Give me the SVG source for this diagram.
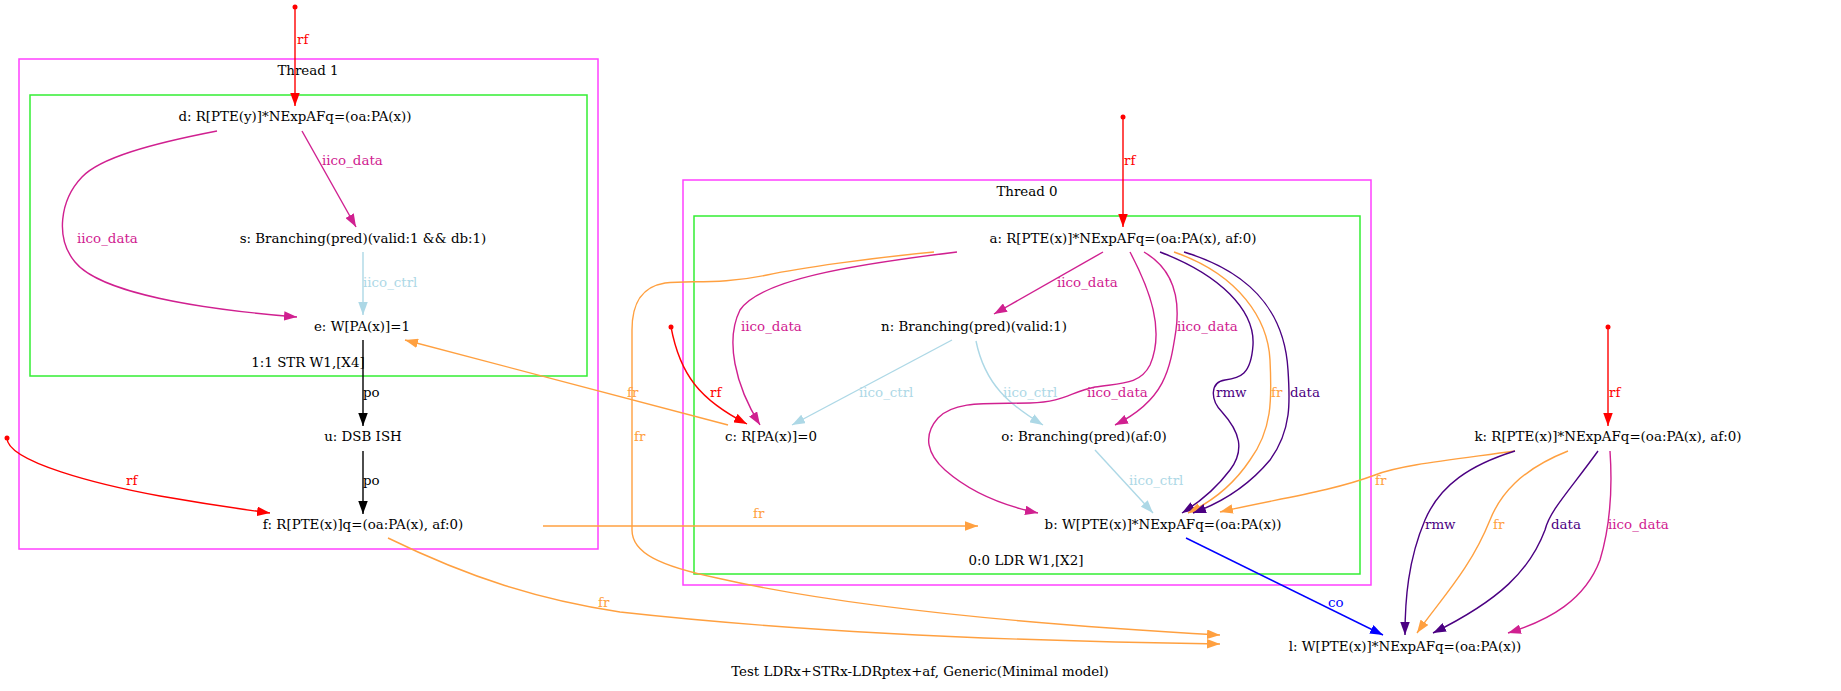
<svg xmlns="http://www.w3.org/2000/svg" width="1841" height="691" viewBox="0 0 1841 691">
<style>
text{font-family:"DejaVu Serif","Liberation Serif",serif;font-size:13.4px;fill:#000}
.n{text-anchor:middle}
.e{fill:none;stroke-width:1.4}
.rf{stroke:#ff0000}.rft{fill:#ff0000}
.id{stroke:#d02090}.idt{fill:#d02090}
.ic{stroke:#add8e6}.ict{fill:#add8e6}
.fr{stroke:#ffa040}.frt{fill:#ffa040}
.in{stroke:#4b0082}.int{fill:#4b0082}
.po{stroke:#000}
.co{stroke:#0000ff}.cot{fill:#0000ff}
.cl1{fill:none;stroke:#ff40ff;stroke-width:1.5}
.cl2{fill:none;stroke:#33ee33;stroke-width:1.5}
</style>
<defs>
<marker id="aR" viewBox="0 0 10 7" refX="10" refY="3.5" markerWidth="13" markerHeight="9.5" markerUnits="userSpaceOnUse" orient="auto" preserveAspectRatio="none"><path d="M0,0L10,3.5L0,7z" fill="#ff0000"/></marker>
<marker id="aI" viewBox="0 0 10 7" refX="10" refY="3.5" markerWidth="13" markerHeight="9.5" markerUnits="userSpaceOnUse" orient="auto" preserveAspectRatio="none"><path d="M0,0L10,3.5L0,7z" fill="#d02090"/></marker>
<marker id="aC" viewBox="0 0 10 7" refX="10" refY="3.5" markerWidth="13" markerHeight="9.5" markerUnits="userSpaceOnUse" orient="auto" preserveAspectRatio="none"><path d="M0,0L10,3.5L0,7z" fill="#add8e6"/></marker>
<marker id="aF" viewBox="0 0 10 7" refX="10" refY="3.5" markerWidth="13" markerHeight="9.5" markerUnits="userSpaceOnUse" orient="auto" preserveAspectRatio="none"><path d="M0,0L10,3.5L0,7z" fill="#ffa040"/></marker>
<marker id="aN" viewBox="0 0 10 7" refX="10" refY="3.5" markerWidth="13" markerHeight="9.5" markerUnits="userSpaceOnUse" orient="auto" preserveAspectRatio="none"><path d="M0,0L10,3.5L0,7z" fill="#4b0082"/></marker>
<marker id="aP" viewBox="0 0 10 7" refX="10" refY="3.5" markerWidth="13" markerHeight="9.5" markerUnits="userSpaceOnUse" orient="auto" preserveAspectRatio="none"><path d="M0,0L10,3.5L0,7z" fill="#000"/></marker>
<marker id="aB" viewBox="0 0 10 7" refX="10" refY="3.5" markerWidth="13" markerHeight="9.5" markerUnits="userSpaceOnUse" orient="auto" preserveAspectRatio="none"><path d="M0,0L10,3.5L0,7z" fill="#0000ff"/></marker>
</defs>
<rect width="1841" height="691" fill="#fff"/>
<g id="clusters">
<rect class="cl1" x="19" y="59" width="579" height="490"/>
<text class="n" x="308" y="75">Thread 1</text>
<rect class="cl2" x="30" y="95" width="557" height="281"/>
<text class="n" x="308" y="367">1:1 STR W1,[X4]</text>
<rect class="cl1" x="683" y="180" width="688" height="405"/>
<text class="n" x="1027" y="196">Thread 0</text>
<rect class="cl2" x="694" y="216" width="666" height="358"/>
<text class="n" x="1026" y="565">0:0 LDR W1,[X2]</text>
</g>
<g id="connectors">
<circle cx="295" cy="7" r="2.5" fill="#ff0000"/>
<path class="e rf" d="M295,7L295,106" marker-end="url(#aR)"/>
<text class="rft" x="297" y="44">rf</text>
<path class="e id" d="M302,131L356,227" marker-end="url(#aI)"/>
<text class="idt" x="322" y="165">iico_data</text>
<path class="e id" d="M217,131C150,144 100,158 82,177C60,200 55,238 75,262C100,293 200,309 297,317" marker-end="url(#aI)"/>
<text class="idt" x="77" y="243">iico_data</text>
<path class="e ic" d="M363,252L363,315" marker-end="url(#aC)"/>
<text class="ict" x="363" y="287">iico_ctrl</text>
<path class="e po" d="M363,340L363,426" marker-end="url(#aP)"/>
<text x="363" y="397">po</text>
<path class="e po" d="M363,451L363,514" marker-end="url(#aP)"/>
<text x="363" y="485">po</text>
<circle cx="7" cy="438" r="2.5" fill="#ff0000"/>
<path class="e rf" d="M7,438C7,462 100,485 160,496C200,503 240,509 270,513" marker-end="url(#aR)"/>
<text class="rft" x="126" y="485">rf</text>
<path class="e fr" d="M728,425L405,340" marker-end="url(#aF)"/>
<text class="frt" x="627" y="397">fr</text>
<path class="e fr" d="M543,526L978,526" marker-end="url(#aF)"/>
<text class="frt" x="753" y="518">fr</text>
<path class="e fr" d="M388,538C470,578 540,600 620,612C800,632 1000,641 1220,644" marker-end="url(#aF)"/>
<text class="frt" x="598" y="607">fr</text>
<circle cx="1123" cy="117" r="2.5" fill="#ff0000"/>
<path class="e rf" d="M1123,117L1123,227" marker-end="url(#aR)"/>
<text class="rft" x="1124" y="165">rf</text>
<path class="e id" d="M1103,252L994,314" marker-end="url(#aI)"/>
<text class="idt" x="1057" y="287">iico_data</text>
<path class="e id" d="M957,252C850,265 760,280 740,310C725,340 735,385 760,425" marker-end="url(#aI)"/>
<text class="idt" x="741" y="331">iico_data</text>
<circle cx="671" cy="327" r="2.5" fill="#ff0000"/>
<path class="e rf" d="M671,327C680,375 700,400 747,424" marker-end="url(#aR)"/>
<text class="rft" x="710" y="397">rf</text>
<path class="e ic" d="M952,340L792,425" marker-end="url(#aC)"/>
<text class="ict" x="859" y="397">iico_ctrl</text>
<path class="e ic" d="M976,341C985,385 1010,405 1043,425" marker-end="url(#aC)"/>
<text class="ict" x="1003" y="397">iico_ctrl</text>
<path class="e id" d="M1144,252C1175,270 1180,300 1176,330C1170,370 1165,400 1115,425" marker-end="url(#aI)"/>
<text class="idt" x="1177" y="331">iico_data</text>
<path class="e id" d="M1130,252C1150,290 1165,330 1150,365C1140,385 1120,383 1095,387C1070,392 1065,402 1030,403C990,404 955,400 938,418C922,436 928,455 945,470C970,492 1000,505 1038,513" marker-end="url(#aI)"/>
<text class="idt" x="1087" y="397">iico_data</text>
<path class="e in" d="M1160,252C1220,275 1255,310 1253,345C1251,375 1240,378 1225,380C1210,382 1210,400 1222,412C1240,432 1245,450 1230,470C1215,490 1195,505 1182,513" marker-end="url(#aN)"/>
<text class="int" x="1216" y="397">rmw</text>
<path class="e fr" d="M1174,252C1240,275 1268,320 1270,360C1272,400 1272,430 1250,460C1230,490 1205,505 1188,513" marker-end="url(#aF)"/>
<text class="frt" x="1271" y="397">fr</text>
<path class="e in" d="M1184,252C1260,275 1285,320 1288,370C1290,400 1292,430 1270,460C1245,490 1215,505 1193,513" marker-end="url(#aN)"/>
<text class="int" x="1290" y="397">data</text>
<path class="e ic" d="M1095,450L1153,513" marker-end="url(#aC)"/>
<text class="ict" x="1129" y="485">iico_ctrl</text>
<path class="e fr" d="M934,252C870,258 800,268 767,275C720,285 690,280 665,283C640,287 632,305 632,330L632,530C632,553 660,566 717,578C800,597 950,620 1220,635" marker-end="url(#aF)"/>
<text class="frt" x="634" y="441">fr</text>
<path class="e co" d="M1186,538L1383,635" marker-end="url(#aB)"/>
<text class="cot" x="1328" y="607">co</text>
<circle cx="1608" cy="327" r="2.5" fill="#ff0000"/>
<path class="e rf" d="M1608,327L1608,426" marker-end="url(#aR)"/>
<text class="rft" x="1609" y="397">rf</text>
<path class="e fr" d="M1515,451C1450,460 1400,465 1375,475C1330,492 1270,500 1220,512" marker-end="url(#aF)"/>
<text class="frt" x="1375" y="485">fr</text>
<path class="e in" d="M1515,451C1470,465 1440,485 1425,520C1408,560 1405,600 1405,635" marker-end="url(#aN)"/>
<text class="int" x="1425" y="529">rmw</text>
<path class="e fr" d="M1568,451C1520,470 1500,495 1490,520C1470,570 1440,600 1417,633" marker-end="url(#aF)"/>
<text class="frt" x="1493" y="529">fr</text>
<path class="e in" d="M1598,451C1570,490 1550,510 1545,530C1530,570 1500,600 1433,633" marker-end="url(#aN)"/>
<text class="int" x="1551" y="529">data</text>
<path class="e id" d="M1610,451C1612,480 1612,520 1600,560C1585,600 1550,620 1508,633" marker-end="url(#aI)"/>
<text class="idt" x="1608" y="529">iico_data</text>
</g>
<g id="node-d"><text class="n" x="295" y="121">d: R[PTE(y)]*NExpAFq=(oa:PA(x))</text></g>
<g id="node-s"><text class="n" x="363" y="243">s: Branching(pred)(valid:1 &amp;&amp; db:1)</text></g>
<g id="node-e"><text class="n" x="362" y="331">e: W[PA(x)]=1</text></g>
<g id="node-u"><text class="n" x="363" y="441">u: DSB ISH</text></g>
<g id="node-f"><text class="n" x="363" y="529">f: R[PTE(x)]q=(oa:PA(x), af:0)</text></g>
<g id="node-a"><text class="n" x="1123" y="243">a: R[PTE(x)]*NExpAFq=(oa:PA(x), af:0)</text></g>
<g id="node-n"><text class="n" x="974" y="331">n: Branching(pred)(valid:1)</text></g>
<g id="node-c"><text class="n" x="771" y="441">c: R[PA(x)]=0</text></g>
<g id="node-o"><text class="n" x="1084" y="441">o: Branching(pred)(af:0)</text></g>
<g id="node-b"><text class="n" x="1163" y="529">b: W[PTE(x)]*NExpAFq=(oa:PA(x))</text></g>
<g id="node-k"><text class="n" x="1608" y="441">k: R[PTE(x)]*NExpAFq=(oa:PA(x), af:0)</text></g>
<g id="node-l"><text class="n" x="1405" y="651">l: W[PTE(x)]*NExpAFq=(oa:PA(x))</text></g>
<g id="title"><text class="n" x="920" y="676">Test LDRx+STRx-LDRptex+af, Generic(Minimal model)</text></g>
</svg>
